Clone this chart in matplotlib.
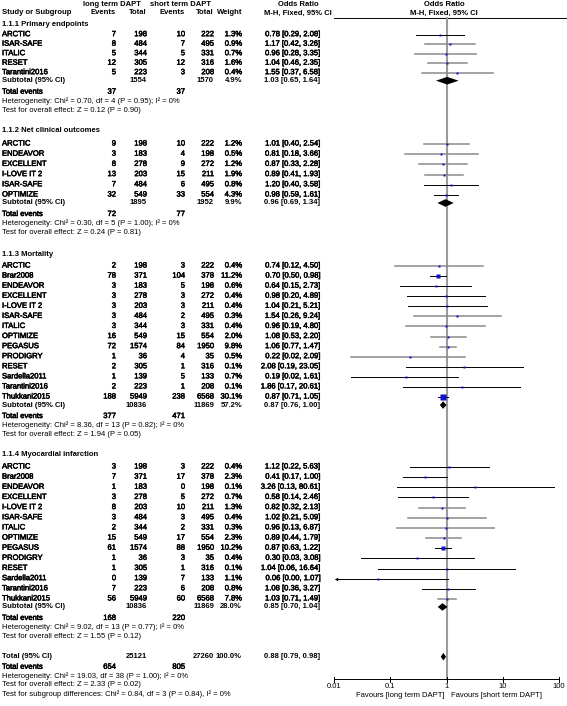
import matplotlib
matplotlib.use("Agg")
import matplotlib.pyplot as plt
import matplotlib.patheffects as pe

plt.rcParams['font.family'] = ['Liberation Sans', 'DejaVu Sans']
plt.rcParams['font.size'] = 5.5

# ---- data ----
section_titles = ["1.1.1 Primary endpoints", "1.1.2 Net clinical outcomes",
                  "1.1.3 Mortality", "1.1.4 Myocardial infarction"]

study = ["ARCTIC", "ISAR-SAFE", "ITALIC", "RESET", "Tarantini2016",
         "ARCTIC", "ENDEAVOR", "EXCELLENT", "I-LOVE IT 2", "ISAR-SAFE", "OPTIMIZE",
         "ARCTIC", "Brar2008", "ENDEAVOR", "EXCELLENT", "I-LOVE IT 2", "ISAR-SAFE", "ITALIC",
         "OPTIMIZE", "PEGASUS", "PRODIGRY", "RESET", "Sardella2011", "Tarantini2016", "Thukkani2015",
         "ARCTIC", "Brar2008", "ENDEAVOR", "EXCELLENT", "I-LOVE IT 2", "ISAR-SAFE", "ITALIC",
         "OPTIMIZE", "PEGASUS", "PRODIGRY", "RESET", "Sardella2011", "Tarantini2016", "Thukkani2015"]
section = [0] * 5 + [1] * 6 + [2] * 14 + [3] * 14

ev_long = [7, 8, 5, 12, 5,
           9, 3, 8, 13, 7, 32,
           2, 78, 3, 3, 3, 3, 3, 16, 72, 1, 2, 1, 2, 188,
           3, 7, 1, 3, 8, 3, 2, 15, 61, 1, 1, 0, 7, 56]
tot_long = [198, 484, 344, 305, 223,
            198, 183, 278, 203, 484, 549,
            198, 371, 183, 278, 203, 484, 344, 549, 1574, 36, 305, 139, 223, 5949,
            198, 371, 183, 278, 203, 484, 344, 549, 1574, 36, 305, 139, 223, 5949]
ev_short = [10, 7, 5, 12, 3,
            10, 4, 9, 15, 6, 33,
            3, 104, 5, 3, 3, 2, 3, 15, 84, 4, 1, 5, 1, 238,
            3, 17, 0, 5, 10, 3, 2, 17, 88, 3, 1, 7, 6, 60]
tot_short = [222, 495, 331, 316, 208,
             222, 198, 272, 211, 495, 554,
             222, 378, 198, 272, 211, 495, 331, 554, 1950, 35, 316, 133, 208, 6568,
             222, 378, 198, 272, 211, 495, 331, 554, 1950, 35, 316, 133, 208, 6568]
weight = [1.3, 0.9, 0.7, 1.6, 0.4,
          1.2, 0.5, 1.2, 1.9, 0.8, 4.3,
          0.4, 11.2, 0.6, 0.4, 0.4, 0.3, 0.4, 2.0, 9.8, 0.5, 0.1, 0.7, 0.1, 30.1,
          0.4, 2.3, 0.1, 0.7, 1.3, 0.4, 0.3, 2.3, 10.2, 0.4, 0.1, 1.1, 0.8, 7.8]
or_est = [0.78, 1.17, 0.96, 1.04, 1.55,
          1.01, 0.81, 0.87, 0.89, 1.20, 0.98,
          0.74, 0.70, 0.64, 0.98, 1.04, 1.54, 0.96, 1.08, 1.06, 0.22, 2.08, 0.19, 1.86, 0.87,
          1.12, 0.41, 3.26, 0.58, 0.82, 1.02, 0.96, 0.89, 0.87, 0.30, 1.04, 0.06, 1.08, 1.03]
or_lo = [0.29, 0.42, 0.28, 0.46, 0.37,
         0.40, 0.18, 0.33, 0.41, 0.40, 0.59,
         0.12, 0.50, 0.15, 0.20, 0.21, 0.26, 0.19, 0.53, 0.77, 0.02, 0.19, 0.02, 0.17, 0.71,
         0.22, 0.17, 0.13, 0.14, 0.32, 0.21, 0.13, 0.44, 0.63, 0.03, 0.06, 0.00, 0.36, 0.71]
or_hi = [2.08, 3.26, 3.35, 2.35, 6.58,
         2.54, 3.66, 2.28, 1.93, 3.58, 1.61,
         4.50, 0.98, 2.73, 4.89, 5.21, 9.24, 4.80, 2.20, 1.47, 2.09, 23.05, 1.61, 20.61, 1.05,
         5.63, 1.00, 80.61, 2.46, 2.13, 5.09, 6.87, 1.79, 1.22, 3.08, 16.64, 1.07, 3.27, 1.49]
# CI line drawn grey (True) or black (False), as in the source picture
ci_grey = [False, True, True, True, True,
           True, True, True, True, False, False,
           True, False, False, False, False, True, True, True, True, True, False, False, False, False,
           False, False, False, False, True, True, True, True, False, False, False, False, False, True]

sub_tot_long = [1554, 1895, 10836, 10836]
sub_tot_short = [1570, 1952, 11869, 11869]
sub_weight = [4.9, 9.9, 57.2, 28.0]
sub_or = [1.03, 0.96, 0.87, 0.85]
sub_lo = [0.65, 0.69, 0.76, 0.70]
sub_hi = [1.64, 1.34, 1.00, 1.04]
sub_ev_long = [37, 72, 377, 168]
sub_ev_short = [37, 77, 471, 220]
het_chi = [0.70, 0.30, 8.36, 9.02]
het_df = [4, 5, 13, 13]
het_p = [0.95, 1.00, 0.82, 0.77]
z_val = [0.12, 0.24, 1.94, 1.55]
z_p = [0.90, 0.81, 0.05, 0.12]

total_long, total_short = 25121, 27260
total_or, total_lo, total_hi = 0.88, 0.79, 0.98
total_ev_long, total_ev_short = 654, 805
total_het = "Heterogeneity: Chi\u00b2 = 19.03, df = 38 (P = 1.00); I\u00b2 = 0%"
total_z = "Test for overall effect: Z = 2.33 (P = 0.02)"
subgroup_test = "Test for subgroup differences: Chi\u00b2 = 0.84, df = 3 (P = 0.84), I\u00b2 = 0%"

ticks = [0.01, 0.1, 1, 10, 100]
tick_labels = ["0.01", "0.1", "1", "10", "100"]

# ---- layout (pixels) ----
W, H = 567, 706
fig = plt.figure(figsize=(W / 100, H / 100), dpi=100)
tx = fig.add_axes([0, 0, 1, 1])
tx.set_xlim(0, W)
tx.set_ylim(H, 0)
tx.axis('off')

px0, px1 = 334, 559
fx = fig.add_axes([px0 / W, 0, (px1 - px0) / W, 1])
fx.set_xscale('log')
fx.set_xlim(0.01, 100)
fx.set_ylim(H, 0)
fx.axis('off')

col_x = [116, 147, 185, 214, 242, 320]
or_mid = 298
axis_y = 679
sec_header_y = [25, 130.7, 254.7, 454.3]
first_y = [34.7, 144, 266, 467]
step = [9.5, 10.2, 10.08, 10.15]
heavy = [pe.withStroke(linewidth=0.35, foreground='black')]


def fmt_or(e, lo, hi):
    return f"{e:.2f} [{lo:.2f}, {hi:.2f}]"


def row(y, name, vals, bold=False, thick=False):
    w = 'bold' if bold else 'normal'
    eff = heavy if thick else None
    tx.text(2, y, name, ha='left', va='center', fontweight=w, path_effects=eff)
    for xr, v in zip(col_x, vals):
        if v != "":
            tx.text(xr, y, v, ha='right', va='center', fontweight=w, path_effects=eff)


def diamond(y, e, lo, hi):
    fx.fill([lo, e, hi, e], [y, y - 3.8, y, y + 3.8], color='black', lw=0)


# header
tx.text(112, 4.5, "long term DAPT", ha='center', va='center', fontweight='bold')
tx.text(180, 4.5, "short term DAPT", ha='center', va='center', fontweight='bold')
tx.text(or_mid, 4.5, "Odds Ratio", ha='center', va='center', fontweight='bold')
tx.text(444, 4.5, "Odds Ratio", ha='center', va='center', fontweight='bold')
row(13, "Study or Subgroup", ["Events", "Total", "Events", "Total", "Weight", ""], bold=True)
tx.text(or_mid, 13, "M-H, Fixed, 95% CI", ha='center', va='center', fontweight='bold')
tx.text(444, 13, "M-H, Fixed, 95% CI", ha='center', va='center', fontweight='bold')
tx.plot([px0, W], [17.5, 17.5], color='black', lw=0.7)

# null line
fx.plot([1, 1], [17.5, axis_y], color='#9a9a9a', lw=1.5, zorder=1)

for s, title in enumerate(section_titles):
    tx.text(2, sec_header_y[s], title, ha='left', va='center', fontweight='bold')
    idx = [i for i in range(len(study)) if section[i] == s]
    y = first_y[s]
    for k, i in enumerate(idx):
        y = first_y[s] + k * step[s]
        row(y, study[i], [str(ev_long[i]), str(tot_long[i]), str(ev_short[i]), str(tot_short[i]),
                          f"{weight[i]:.1f}%", fmt_or(or_est[i], or_lo[i], or_hi[i])], thick=True)
        c = '#8a8a8a' if ci_grey[i] else 'black'
        lw = 1.1 if ci_grey[i] else 0.7
        if or_lo[i] < 0.01:
            fx.plot([0.0108, or_hi[i]], [y, y], color=c, lw=lw, zorder=2, clip_on=False)
            fx.plot(0.0108, y, marker='<', ms=2.5, color=c, mec='none', clip_on=False)
        else:
            fx.plot([or_lo[i], or_hi[i]], [y, y], color=c, lw=lw, zorder=2)
        side = max(2.0, 0.95 * weight[i] ** 0.5)
        fx.plot(or_est[i], y, marker='s', ms=side / 1.389, color='#1010d0', mec='none', zorder=3)
    y += 8
    row(y, "Subtotal (95% CI)", ["", str(sub_tot_long[s]), "", str(sub_tot_short[s]),
                                 f"{sub_weight[s]:.1f}%", fmt_or(sub_or[s], sub_lo[s], sub_hi[s])], bold=True)
    diamond(y, sub_or[s], sub_lo[s], sub_hi[s])
    y += 11.5
    row(y, "Total events", [str(sub_ev_long[s]), "", str(sub_ev_short[s]), "", "", ""], thick=True)
    y += 9
    tx.text(2, y, f"Heterogeneity: Chi\u00b2 = {het_chi[s]:.2f}, df = {het_df[s]} (P = {het_p[s]:.2f}); I\u00b2 = 0%",
            ha='left', va='center')
    y += 8.8
    tx.text(2, y, f"Test for overall effect: Z = {z_val[s]:.2f} (P = {z_p[s]:.2f})", ha='left', va='center')

# overall
y = 656.7
row(y, "Total (95% CI)", ["", str(total_long), "", str(total_short), "100.0%",
                          fmt_or(total_or, total_lo, total_hi)], bold=True)
diamond(y, total_or, total_lo, total_hi)
row(667.3, "Total events", [str(total_ev_long), "", str(total_ev_short), "", "", ""], thick=True)
tx.text(2, 676.3, total_het, ha='left', va='center')
tx.text(2, 685, total_z, ha='left', va='center')
tx.text(2, 694.3, subgroup_test, ha='left', va='center')

# x axis
fx.plot([0.01, 100], [axis_y, axis_y], color='black', lw=0.7, clip_on=False)
for t, lab in zip(ticks, tick_labels):
    fx.plot([t, t], [axis_y - 2.5, axis_y + 2.5], color='black', lw=0.7, clip_on=False)
    fx.text(t, axis_y + 7, lab, ha='center', va='center')
tx.text(444, 695.5, "Favours [long term DAPT]", ha='right', va='center')
tx.text(451, 695.5, "Favours [short term DAPT]", ha='left', va='center')

fig.savefig("out.png", dpi=100)
